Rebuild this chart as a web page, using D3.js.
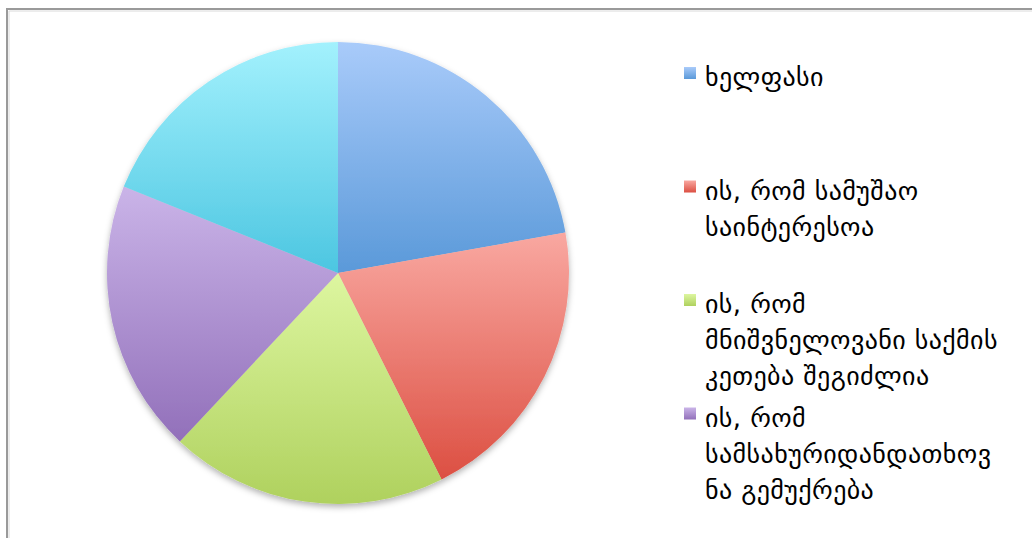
<!DOCTYPE html>
<html>
<head>
<meta charset="utf-8">
<script src="https://cdn.jsdelivr.net/npm/d3@7"></script>
<style>
  html, body { margin: 0; padding: 0; background: #fff; }
  svg { display: block; }
  text { font-family: "DejaVu Sans", sans-serif; }
</style>
</head>
<body>
<svg id="chart" width="1032" height="538"></svg>
<script>
// ---- data ----
const categories = [
  ["ხელფასი"],
  ["ის, რომ სამუშაო", "საინტერესოა"],
  ["ის, რომ", "მნიშვნელოვანი საქმის", "კეთება შეგიძლია"],
  ["ის, რომ", "სამსახურიდანდათხოვ", "ნა გემუქრება"],
  [] // fifth category: label not visible in the picture
];
const values = [22.2, 20.4, 19.4, 19.1, 18.9];
const colorTop = ["#a9cbfa", "#f9a8a1", "#ddf6a0", "#cab4e8", "#a3f1fd"];
const colorBottom = ["#5a99d9", "#dc4f42", "#afd15e", "#9270ba", "#4cc6e1"];

// ---- layout ----
const W = 1032, H = 538;
const cx = 338, cy = 273, R = 231;
const svg = d3.select("#chart");
const defs = svg.append("defs");

values.forEach((v, i) => {
  const g = defs.append("linearGradient")
    .attr("id", "grad" + i)
    .attr("x1", 0).attr("y1", 0).attr("x2", 0).attr("y2", 1);
  g.append("stop").attr("offset", "0%").attr("stop-color", colorTop[i]);
  g.append("stop").attr("offset", "100%").attr("stop-color", colorBottom[i]);
});

const shadow = defs.append("filter").attr("id", "shadow")
  .attr("x", "-10%").attr("y", "-10%").attr("width", "120%").attr("height", "125%");
shadow.append("feDropShadow")
  .attr("dx", 0).attr("dy", 3).attr("stdDeviation", 3)
  .attr("flood-color", "#000").attr("flood-opacity", 0.3);

// frame
svg.append("path")
  .attr("d", `M7,${H + 5} V9 H${W + 5}`)
  .attr("fill", "none").attr("stroke", "#9a9a9a").attr("stroke-width", 2);
svg.append("path")
  .attr("d", `M9,${H + 5} V11 H${W + 5}`)
  .attr("fill", "none").attr("stroke", "#dadada").attr("stroke-width", 1);

// pie
const pie = d3.pie().sort(null).value(d => d);
const arc = d3.arc().innerRadius(0).outerRadius(R);
const pg = svg.append("g").attr("transform", `translate(${cx},${cy})`);
const shadowG = pg.append("g").attr("filter", "url(#shadow)");
shadowG.selectAll("path.slice")
  .data(pie(values))
  .join("path")
  .attr("class", "slice")
  .attr("d", arc)
  .attr("fill", (d, i) => `url(#grad${i})`);

// legend
const lx = 684, tx = 705, firstBase = 86, itemStep = 113.5, lineStep = 36, sq = 12;
const lg = svg.append("g");
categories.forEach((lines, i) => {
  if (!lines.length) return;
  const base = firstBase + i * itemStep;
  lg.append("rect")
    .attr("x", lx).attr("y", base - 19).attr("width", sq).attr("height", sq)
    .attr("fill", `url(#grad${i})`);
  const t = lg.append("text").attr("x", tx).attr("y", base)
    .attr("font-size", 26).attr("letter-spacing", 0.4).attr("fill", "#000");
  lines.forEach((s, j) => {
    t.append("tspan").attr("x", tx).attr("y", base + j * lineStep).text(s);
  });
});
</script>
</body>
</html>
